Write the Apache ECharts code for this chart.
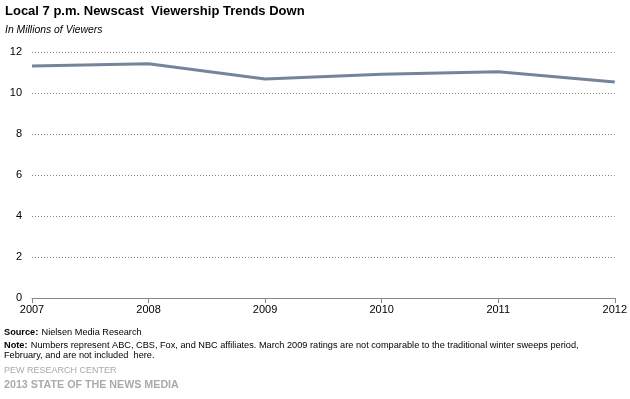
<!DOCTYPE html>
<html><head><meta charset="utf-8">
<script src="https://cdn.jsdelivr.net/npm/echarts@6/dist/echarts.min.js"></script>
<style>html,body{margin:0;padding:0;background:#fff}#c{width:630px;height:399px}</style>
</head><body><div id="c"></div>
<script>
const categories = ['2007','2008','2009','2010','2011','2012'];
const viewers = [11.32, 11.43, 10.68, 10.92, 11.04, 10.54];
const yTicks = [0, 2, 4, 6, 8, 10, 12];

const F = '"Liberation Sans", Arial, sans-serif';
const chart = echarts.init(document.getElementById('c'), null, {renderer: 'canvas'});
chart.setOption({
  animation: false,
  grid: {left: 32, right: 15, top: 52, bottom: 101, containLabel: false},
  xAxis: {
    type: 'category', data: categories, boundaryGap: false,
    axisLine: {lineStyle: {color: '#888', width: 1}},
    axisTick: {show: true, length: 5, lineStyle: {color: '#888'}},
    axisLabel: {color: '#000', fontFamily: F, fontSize: 11, margin: 6}
  },
  yAxis: {
    type: 'value', min: yTicks[0], max: yTicks[yTicks.length-1], interval: 2,
    axisLine: {show: false}, axisTick: {show: false},
    splitLine: {lineStyle: {color: '#888', type: [1, 2], width: 1}},
    axisLabel: {color: '#000', fontFamily: F, fontSize: 11, margin: 10}
  },
  series: [{
    type: 'line', data: viewers, symbol: 'none',
    lineStyle: {color: '#74859b', width: 3}
  }],
  graphic: [
    {type: 'text', left: 5, top: 5, style: {text: 'Local 7 p.m. Newscast  Viewership Trends Down', font: 'bold 13px ' + F, fill: '#000'}},
    {type: 'text', left: 5, top: 25, style: {text: 'In Millions of Viewers', font: 'italic 10.4px ' + F, fill: '#000'}},
    {type: 'text', left: 4, top: 326, style: {rich: {b: {font: 'bold 9.2px ' + F, fill: '#000'}, n: {font: '9.2px ' + F, fill: '#000'}}, text: '{b|Source:} {n|Nielsen Media Research}'}},
    {type: 'text', left: 4, top: 339, style: {rich: {b: {font: 'bold 9.2px ' + F, fill: '#000'}, n: {font: '9.2px ' + F, fill: '#000'}}, text: '{b|Note:} {n|Numbers represent ABC, CBS, Fox, and NBC affiliates. March 2009 ratings are not comparable to the traditional winter sweeps period,}'}},
    {type: 'text', left: 4, top: 351, style: {text: 'February, and are not included  here.', font: '9.2px ' + F, fill: '#000'}},
    {type: 'text', left: 4, top: 366, style: {text: 'PEW RESEARCH CENTER', font: '9px ' + F, fill: '#aaa'}},
    {type: 'text', left: 4, top: 380, style: {text: '2013 STATE OF THE NEWS MEDIA', font: 'bold 10.7px ' + F, fill: '#aaa'}}
  ]
});
</script></body></html>
